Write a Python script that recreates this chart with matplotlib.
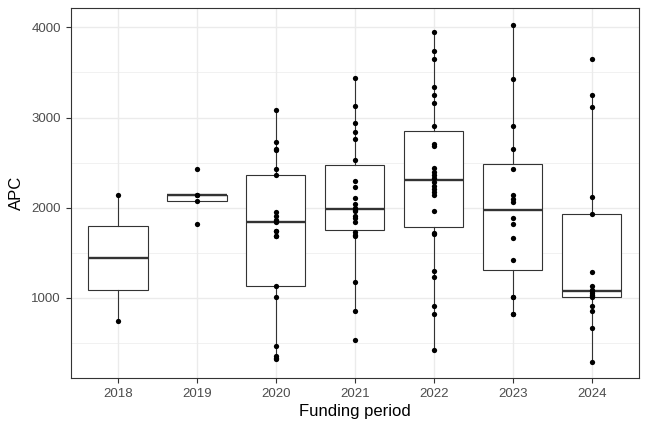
import numpy as np
import matplotlib
matplotlib.use("Agg")
import matplotlib.pyplot as plt
from matplotlib.ticker import MultipleLocator

plt.rcParams['font.family'] = ['Liberation Sans', 'DejaVu Sans']

# APC values per funding period
periods = ["2018", "2019", "2020", "2021", "2022", "2023", "2024"]
apc_2018 = [741, 2144]
apc_2019 = [1819, 2078, 2144, 2144, 2433]
apc_2020 = [319, 337, 359, 470, 1008, 1126, 1681, 1681, 1744, 1744, 1837,
            1848, 1867, 1911, 1952, 2367, 2430, 2637, 2650, 2730, 3081]
apc_2021 = [533, 848, 1178, 1681, 1700, 1726, 1840, 1880, 1911, 1960, 1978,
            2000, 2041, 2104, 2226, 2300, 2526, 2767, 2837, 2937, 3126, 3440]
apc_2022 = [422, 822, 904, 1230, 1296, 1710, 1722, 1959, 2144, 2170, 2211,
            2237, 2285, 2330, 2359, 2400, 2439, 2681, 2711, 2904, 3156, 3252,
            3341, 3652, 3741, 3952]
apc_2023 = [822, 822, 1008, 1008, 1415, 1663, 1822, 1885, 2063, 2100, 2144,
            2433, 2656, 2904, 3426, 4026]
apc_2024 = [292, 663, 848, 911, 1008, 1015, 1030, 1050, 1070, 1081, 1133,
            1282, 1930, 2122, 3115, 3248, 3644]
groups = [apc_2018, apc_2019, apc_2020, apc_2021, apc_2022, apc_2023, apc_2024]

fig, ax = plt.subplots(figsize=(6.48, 4.32), dpi=100)
plt.subplots_adjust(left=0.109, right=0.986, top=0.981, bottom=0.124)

pos = np.arange(len(groups))
ax.boxplot(groups, positions=pos, widths=0.75, showfliers=False,
           patch_artist=True,
           boxprops=dict(facecolor="white", edgecolor="#333333", linewidth=0.8),
           whiskerprops=dict(color="#333333", linewidth=0.8),
           capprops=dict(linewidth=0),
           medianprops=dict(color="#333333", linewidth=1.7),
           zorder=2)

for i, g in enumerate(groups):
    ax.plot(np.full(len(g), i), g, "o", color="black", markersize=3.8,
            markeredgewidth=0, zorder=3)

# ggplot-like limits (5% expansion, 0.6 discrete)
all_vals = np.concatenate(groups)
lo, hi = all_vals.min(), all_vals.max()
pad = 0.05 * (hi - lo)
ax.set_ylim(lo - pad, hi + pad)
ax.set_xlim(-0.6, len(groups) - 0.4)

ax.set_xticks(pos)
ax.set_xticklabels(periods)
ax.yaxis.set_major_locator(MultipleLocator(1000))
ax.yaxis.set_minor_locator(MultipleLocator(500))

ax.grid(True, which="major", color="#ebebeb", linewidth=1.0, zorder=0)
ax.grid(True, which="minor", axis="y", color="#ebebeb", linewidth=0.5, zorder=0)
ax.set_axisbelow(True)
for s in ax.spines.values():
    s.set_color("#333333")
    s.set_linewidth(0.8)

ax.tick_params(which="major", length=3.5, width=0.8, color="#333333",
               labelcolor="#4d4d4d", labelsize=9.5)
ax.tick_params(which="minor", length=0)

ax.set_xlabel("Funding period", fontsize=12, labelpad=3)
ax.set_ylabel("APC", fontsize=12, labelpad=5)

plt.savefig("out.png", dpi=100)
